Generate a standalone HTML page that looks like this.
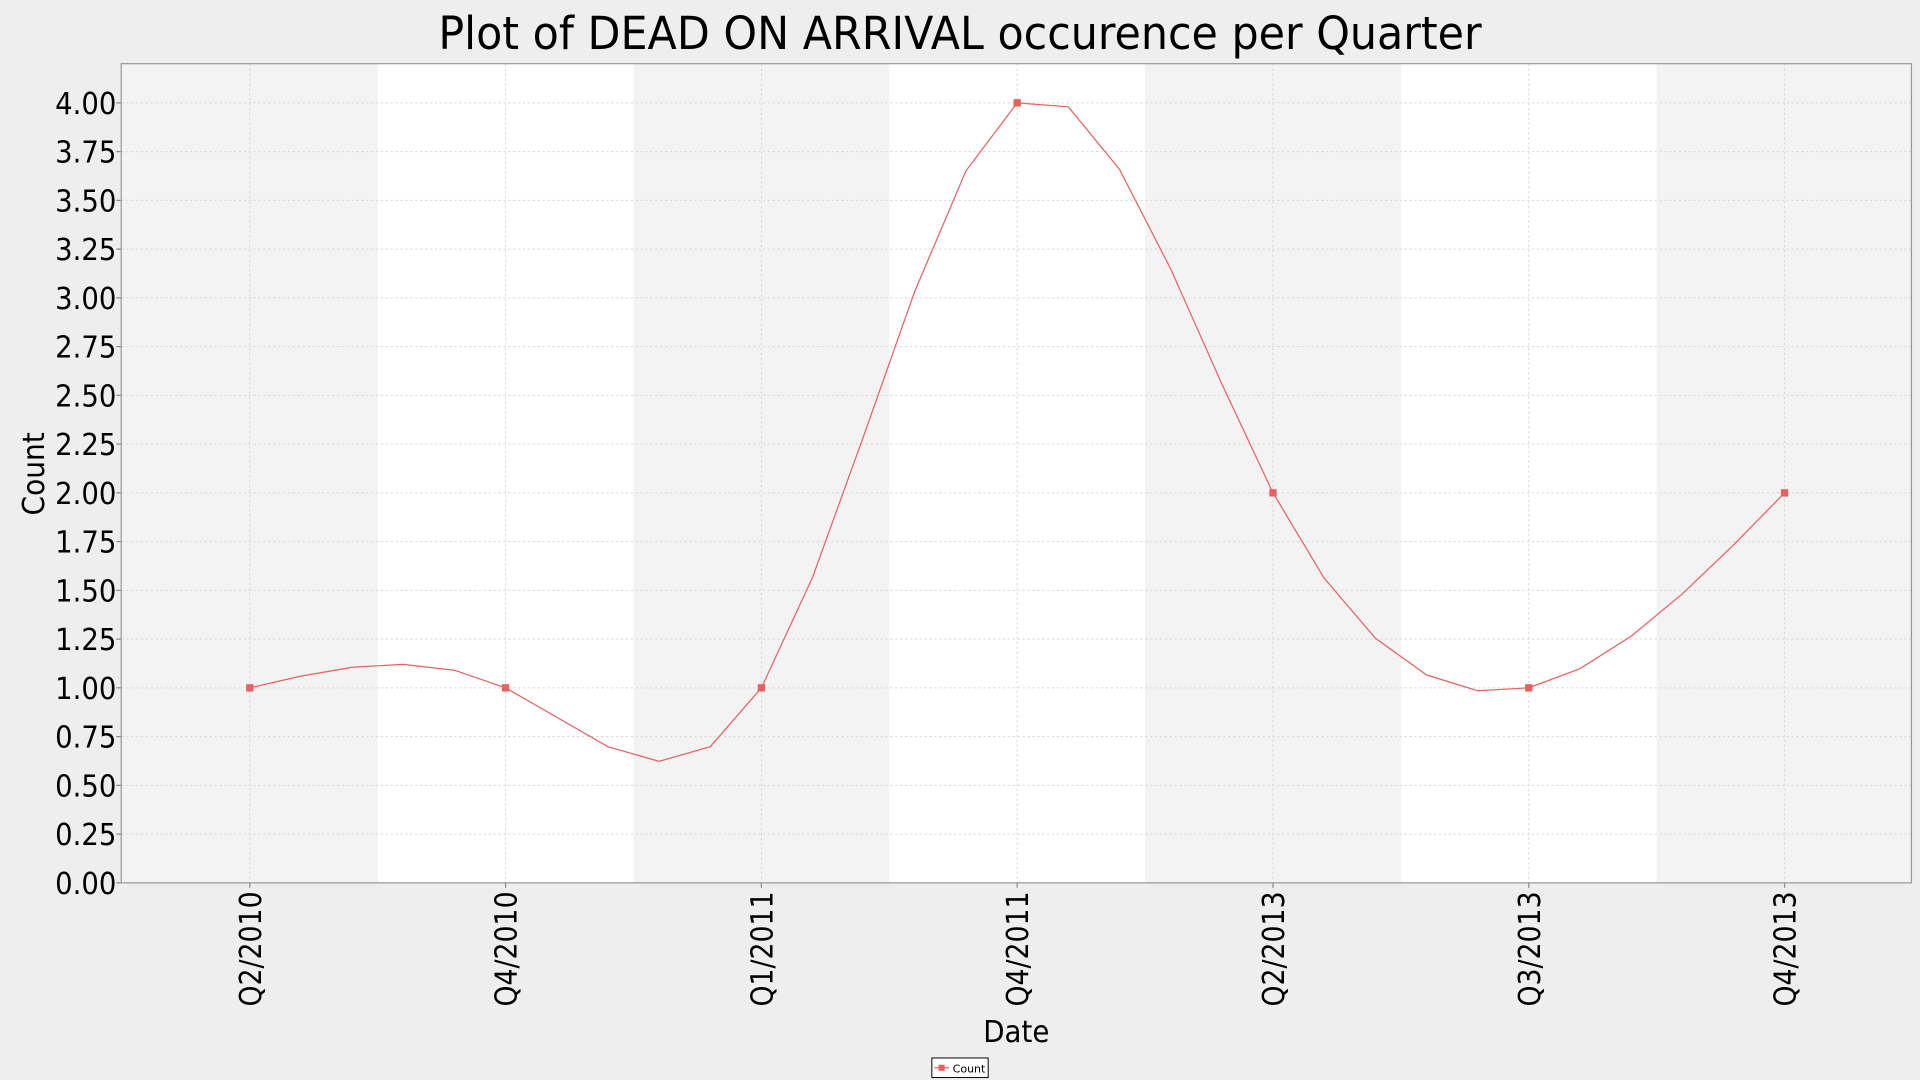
<!DOCTYPE html>
<html><head><meta charset="utf-8"><style>
html,body{margin:0;padding:0;background:#eeeeee;overflow:hidden}
svg{display:block}
text{font-family:"DejaVu Sans","Liberation Sans",sans-serif;fill:#000}
</style></head><body>
<svg id="chart" width="1920" height="1080" viewBox="0 0 1568 882" xmlns="http://www.w3.org/2000/svg">
<rect x="0" y="0" width="1568" height="882" fill="#eeeeee"/>
<text x="784" y="40" font-size="37" text-anchor="middle" textLength="852" lengthAdjust="spacingAndGlyphs">Plot of DEAD ON ARRIVAL occurence per Quarter</text>
<g id="plot"></g>
<text x="830" y="851" font-size="25" text-anchor="middle" textLength="54" lengthAdjust="spacingAndGlyphs">Date</text>
<text transform="translate(36,387) rotate(-90)" font-size="25" text-anchor="middle" textLength="68" lengthAdjust="spacingAndGlyphs">Count</text>
<g>
<rect x="761" y="864" width="46" height="16" fill="#fff" stroke="#000" stroke-width="0.8"/>
<line x1="763" y1="872" x2="775" y2="872" stroke="#e8605f"/>
<rect x="766.5" y="869.5" width="5" height="5" fill="#e8605f"/>
<text x="778" y="876" font-size="9">Count</text>
</g>
</svg>
<script>
const categories = ["Q2/2010","Q4/2010","Q1/2011","Q4/2011","Q2/2013","Q3/2013","Q4/2013"];
const counts = [1, 1, 1, 4, 2, 1, 2];
const yTicks = ["0.00","0.25","0.50","0.75","1.00","1.25","1.50","1.75","2.00","2.25","2.50","2.75","3.00","3.25","3.50","3.75","4.00"];

const NS = "http://www.w3.org/2000/svg";
const L = 99, R = 1561, T = 52, B = 721;
const step = 208.9, x0 = 204;
function xs(i){ return x0 + i*step; }
function ys(v){ return 721 - v*159.25; }
function mk(tag, attrs, parent){
  const e = document.createElementNS(NS, tag);
  for (const k in attrs) e.setAttribute(k, attrs[k]);
  parent.appendChild(e); return e;
}
const g = document.getElementById('plot');
const bg = mk('rect',{x:L,y:T,width:R-L,height:B-T,fill:'#ffffff'},g);


for (let i=0;i<categories.length;i++){
  if (i%2===0){
    const x1 = Math.max(L, xs(i)-step/2), x2 = Math.min(R, xs(i)+step/2);
    const b = mk('rect',{x:x1,y:T,width:x2-x1,height:B-T,fill:'#f3f3f3'},g);
    
    
  }
}
yTicks.forEach(t=>{
  const v=parseFloat(t), y=ys(v);
  const gl = mk('line',{x1:L,x2:R,y1:y,y2:y,stroke:'#d8d8d8','stroke-width':0.8,'stroke-dasharray':'2,2'},g);
  
  
  const tk = mk('line',{x1:L-4,x2:L,y1:y,y2:y,stroke:'#888'},g);
  
  
  const tx = mk('text',{x:L-4,y:y+9,'font-size':25,'text-anchor':'end',textLength:50,lengthAdjust:'spacingAndGlyphs'},g);
  tx.textContent=t;
  
  
});
categories.forEach((c,i)=>{
  const x=xs(i);
  const gl = mk('line',{x1:x,x2:x,y1:T,y2:B,stroke:'#d8d8d8','stroke-width':0.8,'stroke-dasharray':'2,2'},g);
  
  
  const tk = mk('line',{x1:x,x2:x,y1:B,y2:B+4,stroke:'#888'},g);
  
  
  const tx = mk('text',{transform:`translate(${x+9},${B+7}) rotate(-90)`,'font-size':25,'text-anchor':'end',textLength:94,lengthAdjust:'spacingAndGlyphs'},g);
  tx.textContent=c;
  
  
});
const border = mk('rect',{x:L,y:T,width:R-L,height:B-T,fill:'none',stroke:'#999','stroke-width':1},g);


const n=counts.length, px=counts.map((_,i)=>xs(i)), py=counts.map(v=>ys(v));
const h=[],a=[],l=[1],mu=[0],z=[0],c=new Array(n).fill(0),bq=[],d=[];
for(let i=0;i<n-1;i++) h[i]=px[i+1]-px[i];
for(let i=1;i<n-1;i++) a[i]=3/h[i]*(py[i+1]-py[i])-3/h[i-1]*(py[i]-py[i-1]);
for(let i=1;i<n-1;i++){ l[i]=2*(px[i+1]-px[i-1])-h[i-1]*mu[i-1]; mu[i]=h[i]/l[i]; z[i]=(a[i]-h[i-1]*z[i-1])/l[i]; }
for(let j=n-2;j>=0;j--){ c[j]=(j>0?z[j]:0)-mu[j]*c[j+1]; bq[j]=(py[j+1]-py[j])/h[j]-h[j]*(c[j+1]+2*c[j])/3; d[j]=(c[j+1]-c[j])/(3*h[j]); }
let pts=[];
for(let i=0;i<n-1;i++){
  for(let k=0;k<5;k++){ const t=h[i]*k/5; pts.push([px[i]+t, py[i]+bq[i]*t+c[i]*t*t+d[i]*t*t*t]); }
}
pts.push([px[n-1],py[n-1]]);
const line = mk('polyline',{points:pts.map(p=>p.join(',')).join(' '),fill:'none',stroke:'#e8605f','stroke-width':1},g);


counts.forEach((v,i)=>{
  const m = mk('rect',{x:xs(i)-3,y:ys(v)-3,width:6,height:6,fill:'#e8605f'},g);
  
  
});
</script>
</body></html>
